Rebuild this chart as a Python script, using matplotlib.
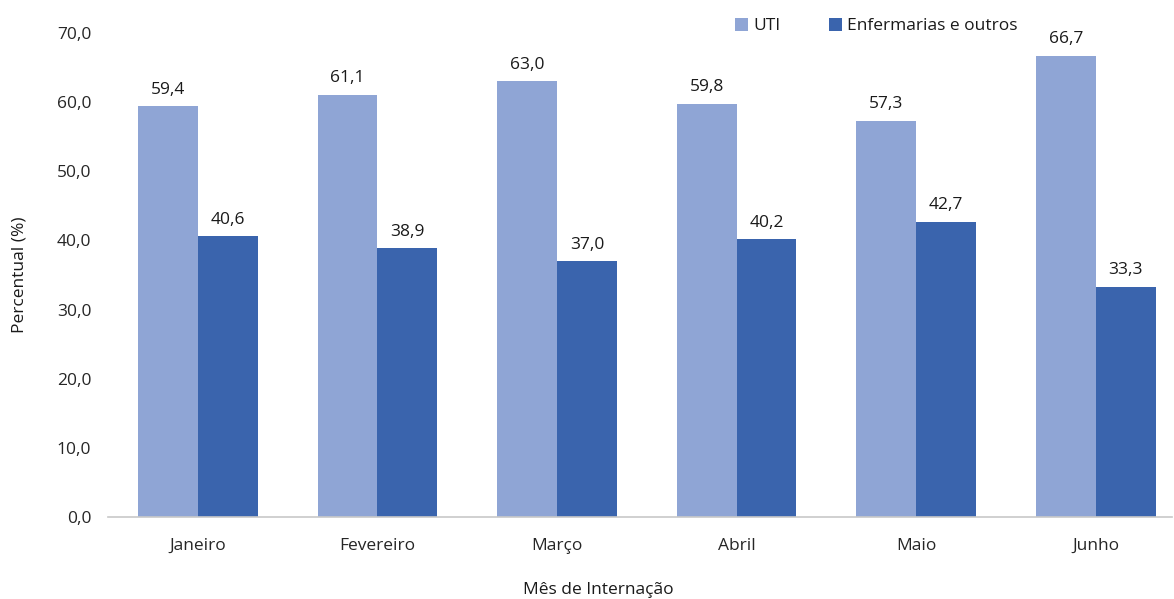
import numpy as np
import matplotlib.pyplot as plt

meses = ["Janeiro", "Fevereiro", "Março", "Abril", "Maio", "Junho"]
uti = [59.4, 61.1, 63.0, 59.8, 57.3, 66.7]
enfermarias = [40.6, 38.9, 37.0, 40.2, 42.7, 33.3]

plt.rcParams['font.family'] = ['Open Sans', 'DejaVu Sans']

W, H = 1174, 599
fig = plt.figure(figsize=(W / 100, H / 100), dpi=100)
# axes: left 108px, bottom at 517px, top at 33px
ax = fig.add_axes([108 / W, (H - 517) / H, (1172 - 108) / W, 484 / H])

x = np.arange(len(meses))
w = 0.333
c_uti = '#8FA5D5'
c_enf = '#3A64AD'

b1 = ax.bar(x - w / 2, uti, w, color=c_uti, label='UTI')
b2 = ax.bar(x + w / 2, enfermarias, w, color=c_enf, label='Enfermarias e outros')

fmt = lambda v: f"{v:.1f}".replace('.', ',')
for bars, vals in ((b1, uti), (b2, enfermarias)):
    for b, v in zip(bars, vals):
        ax.annotate(fmt(v), (b.get_x() + b.get_width() / 2, v),
                    xytext=(0, 6), textcoords='offset points',
                    ha='center', va='bottom', fontsize=12.5, color='#1a1a1a')

# spacing ~179.6px per category, axes right edge cut at 1172px
ax.set_xlim(-0.5, -0.5 + (1172 - 108) / 179.6)
ax.set_ylim(0, 70)
ax.set_yticks(np.arange(0, 71, 10))
ax.set_yticklabels([fmt(v) for v in np.arange(0, 71, 10)])
ax.set_xticks(x)
ax.set_xticklabels(meses)

for s in ['top', 'right', 'left']:
    ax.spines[s].set_visible(False)
ax.spines['bottom'].set_color('#c8c8c8')
ax.spines['bottom'].set_linewidth(1.2)
ax.tick_params(axis='both', length=0, labelsize=12.5, labelcolor='#262626')
ax.tick_params(axis='y', pad=12)
ax.tick_params(axis='x', pad=15)

ax.set_ylabel('Percentual (%)', fontsize=12.5, color='#1a1a1a')
ax.set_xlabel('Mês de Internação', fontsize=12.5, color='#1a1a1a')
ax.yaxis.set_label_coords(-(108 - 28) / (1172 - 108), 0.5)
ax.xaxis.set_label_coords((598 - 108) / (1172 - 108), -(582 - 517) / 484)

fig.legend(loc='center', bbox_to_anchor=(876 / W, 1 - 26 / H), ncol=2,
           frameon=False, fontsize=12.5, handlelength=0.75, handleheight=0.75,
           handletextpad=0.3, columnspacing=2.8, labelcolor='#1a1a1a')

fig.savefig('out.png', dpi=100)
